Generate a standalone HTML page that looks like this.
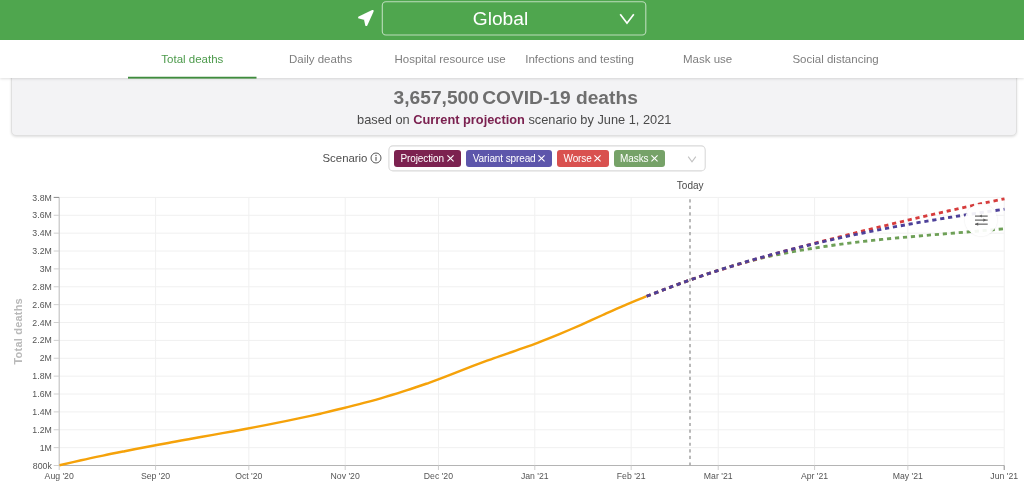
<!DOCTYPE html>
<html lang="en"><head><meta charset="utf-8"><title>COVID-19 Projections</title>
<style>
html,body{margin:0;padding:0;background:#fff;}
body{width:1024px;height:487px;overflow:hidden;position:relative;font-family:"Liberation Sans",Arial,sans-serif;}
#wrap{position:absolute;left:0;top:0;width:1024px;height:487px;overflow:hidden;will-change:transform;}
.hdr{position:absolute;left:0;top:0;width:1024px;height:40px;background:#4fa64e;}
.loc{position:absolute;left:356px;top:8px;}
.sel{position:absolute;left:382px;top:1.7px;width:263px;height:33px;color:#fff;font-size:19.2px;line-height:33px;text-align:center;}
.selbox{position:absolute;left:0;top:0;}
.sel span{position:relative;left:-13px;top:.2px;}
.sel svg.chev{position:absolute;right:8.3px;top:9.9px;}
.panel{position:absolute;left:11px;top:70px;width:1006px;height:66px;background:#f3f3f5;border:1px solid #e0e0e0;border-radius:0 0 5px 5px;box-sizing:border-box;box-shadow:0 .5px 2.5px rgba(0,0,0,.13);}
.h1{position:absolute;left:0;width:1024px;top:86.8px;text-align:center;font-weight:bold;font-size:19.2px;line-height:22px;color:#6e6e6e;white-space:nowrap;text-indent:7.4px;}
.h1 b{margin-right:3.2px;}
.h2{position:absolute;left:0;width:1024px;top:111.5px;text-align:center;font-size:12.8px;line-height:15px;color:#4a4a4a;white-space:nowrap;text-indent:4.5px;}
.h2 b{color:#7b2150;}
.tabs{position:absolute;left:0;top:40px;width:1024px;height:38px;background:#fff;box-shadow:0 1.2px 2.6px rgba(0,0,0,.13);}
.tabs svg{position:absolute;left:0;top:0;}
.tab{position:absolute;top:0;height:39px;line-height:39.9px;text-indent:.2px;text-align:center;font-size:11.5px;color:#7e7e7e;white-space:nowrap;}
.tab.on{color:#4c9a4b;}
.scl{position:absolute;left:322.5px;top:151px;font-size:11.4px;line-height:14px;color:#4d4d4d;}
.info{position:absolute;left:370.3px;top:152.4px;}
.ms{position:absolute;left:389px;top:146px;width:316px;height:25px;}
.ms svg.bx{position:absolute;left:-5px;top:-5px;}
.tag{position:absolute;top:4px;height:17px;border-radius:3px;color:#fff;font-size:10px;letter-spacing:-.11px;line-height:18.2px;box-sizing:border-box;padding-left:6.5px;white-space:nowrap;}
.tag svg{position:absolute;right:7.1px;top:5.4px;overflow:visible;}
.chart{position:absolute;left:0;top:0;}
.yl{font-size:8.75px;fill:#555;}
.xl{font-size:8.7px;fill:#555;}
.today{font-size:10px;fill:#4a4a4a;}
.yt{font-size:11px;font-weight:bold;fill:#b9b9b9;letter-spacing:.2px;}
.fab{position:absolute;left:965.4px;top:204.2px;width:32px;height:32px;border-radius:50%;background:rgba(255,255,255,.92);box-shadow:0 0 2px rgba(0,0,0,.12);}
.fab svg{position:absolute;left:9px;top:9px;}
</style></head><body><div id="wrap">
<svg class="chart" width="1024" height="487" viewBox="0 0 1024 487">
<line x1="59.2" y1="465.50" x2="1004.2" y2="465.50" stroke="#f0f0f0" stroke-width="1"/>
<line x1="59.2" y1="447.63" x2="1004.2" y2="447.63" stroke="#f0f0f0" stroke-width="1"/>
<line x1="59.2" y1="429.75" x2="1004.2" y2="429.75" stroke="#f0f0f0" stroke-width="1"/>
<line x1="59.2" y1="411.88" x2="1004.2" y2="411.88" stroke="#f0f0f0" stroke-width="1"/>
<line x1="59.2" y1="394.01" x2="1004.2" y2="394.01" stroke="#f0f0f0" stroke-width="1"/>
<line x1="59.2" y1="376.13" x2="1004.2" y2="376.13" stroke="#f0f0f0" stroke-width="1"/>
<line x1="59.2" y1="358.26" x2="1004.2" y2="358.26" stroke="#f0f0f0" stroke-width="1"/>
<line x1="59.2" y1="340.39" x2="1004.2" y2="340.39" stroke="#f0f0f0" stroke-width="1"/>
<line x1="59.2" y1="322.51" x2="1004.2" y2="322.51" stroke="#f0f0f0" stroke-width="1"/>
<line x1="59.2" y1="304.64" x2="1004.2" y2="304.64" stroke="#f0f0f0" stroke-width="1"/>
<line x1="59.2" y1="286.77" x2="1004.2" y2="286.77" stroke="#f0f0f0" stroke-width="1"/>
<line x1="59.2" y1="268.89" x2="1004.2" y2="268.89" stroke="#f0f0f0" stroke-width="1"/>
<line x1="59.2" y1="251.02" x2="1004.2" y2="251.02" stroke="#f0f0f0" stroke-width="1"/>
<line x1="59.2" y1="233.15" x2="1004.2" y2="233.15" stroke="#f0f0f0" stroke-width="1"/>
<line x1="59.2" y1="215.27" x2="1004.2" y2="215.27" stroke="#f0f0f0" stroke-width="1"/>
<line x1="59.2" y1="197.40" x2="1004.2" y2="197.40" stroke="#f0f0f0" stroke-width="1"/>
<line x1="155.57" y1="197.4" x2="155.57" y2="465.5" stroke="#f0f0f0" stroke-width="1"/>
<line x1="248.82" y1="197.4" x2="248.82" y2="465.5" stroke="#f0f0f0" stroke-width="1"/>
<line x1="345.19" y1="197.4" x2="345.19" y2="465.5" stroke="#f0f0f0" stroke-width="1"/>
<line x1="438.44" y1="197.4" x2="438.44" y2="465.5" stroke="#f0f0f0" stroke-width="1"/>
<line x1="534.81" y1="197.4" x2="534.81" y2="465.5" stroke="#f0f0f0" stroke-width="1"/>
<line x1="631.17" y1="197.4" x2="631.17" y2="465.5" stroke="#f0f0f0" stroke-width="1"/>
<line x1="718.21" y1="197.4" x2="718.21" y2="465.5" stroke="#f0f0f0" stroke-width="1"/>
<line x1="814.58" y1="197.4" x2="814.58" y2="465.5" stroke="#f0f0f0" stroke-width="1"/>
<line x1="907.83" y1="197.4" x2="907.83" y2="465.5" stroke="#f0f0f0" stroke-width="1"/>
<line x1="1004.20" y1="197.4" x2="1004.20" y2="465.5" stroke="#f0f0f0" stroke-width="1"/>
<line x1="59.2" y1="197.4" x2="59.2" y2="465.5" stroke="#c2c2c2" stroke-width="1.15"/>
<line x1="59.2" y1="465.5" x2="1004.2" y2="465.5" stroke="#b4b4b4" stroke-width="1"/>
<line x1="53.7" y1="465.50" x2="59.2" y2="465.50" stroke="#cfcfcf" stroke-width="1"/>
<text x="51.8" y="468.60" text-anchor="end" class="yl">800k</text>
<line x1="53.7" y1="447.63" x2="59.2" y2="447.63" stroke="#cfcfcf" stroke-width="1"/>
<text x="51.8" y="450.73" text-anchor="end" class="yl">1M</text>
<line x1="53.7" y1="429.75" x2="59.2" y2="429.75" stroke="#cfcfcf" stroke-width="1"/>
<text x="51.8" y="432.85" text-anchor="end" class="yl">1.2M</text>
<line x1="53.7" y1="411.88" x2="59.2" y2="411.88" stroke="#cfcfcf" stroke-width="1"/>
<text x="51.8" y="414.98" text-anchor="end" class="yl">1.4M</text>
<line x1="53.7" y1="394.01" x2="59.2" y2="394.01" stroke="#cfcfcf" stroke-width="1"/>
<text x="51.8" y="397.11" text-anchor="end" class="yl">1.6M</text>
<line x1="53.7" y1="376.13" x2="59.2" y2="376.13" stroke="#cfcfcf" stroke-width="1"/>
<text x="51.8" y="379.23" text-anchor="end" class="yl">1.8M</text>
<line x1="53.7" y1="358.26" x2="59.2" y2="358.26" stroke="#cfcfcf" stroke-width="1"/>
<text x="51.8" y="361.36" text-anchor="end" class="yl">2M</text>
<line x1="53.7" y1="340.39" x2="59.2" y2="340.39" stroke="#cfcfcf" stroke-width="1"/>
<text x="51.8" y="343.49" text-anchor="end" class="yl">2.2M</text>
<line x1="53.7" y1="322.51" x2="59.2" y2="322.51" stroke="#cfcfcf" stroke-width="1"/>
<text x="51.8" y="325.61" text-anchor="end" class="yl">2.4M</text>
<line x1="53.7" y1="304.64" x2="59.2" y2="304.64" stroke="#cfcfcf" stroke-width="1"/>
<text x="51.8" y="307.74" text-anchor="end" class="yl">2.6M</text>
<line x1="53.7" y1="286.77" x2="59.2" y2="286.77" stroke="#cfcfcf" stroke-width="1"/>
<text x="51.8" y="289.87" text-anchor="end" class="yl">2.8M</text>
<line x1="53.7" y1="268.89" x2="59.2" y2="268.89" stroke="#cfcfcf" stroke-width="1"/>
<text x="51.8" y="271.99" text-anchor="end" class="yl">3M</text>
<line x1="53.7" y1="251.02" x2="59.2" y2="251.02" stroke="#cfcfcf" stroke-width="1"/>
<text x="51.8" y="254.12" text-anchor="end" class="yl">3.2M</text>
<line x1="53.7" y1="233.15" x2="59.2" y2="233.15" stroke="#cfcfcf" stroke-width="1"/>
<text x="51.8" y="236.25" text-anchor="end" class="yl">3.4M</text>
<line x1="53.7" y1="215.27" x2="59.2" y2="215.27" stroke="#cfcfcf" stroke-width="1"/>
<text x="51.8" y="218.37" text-anchor="end" class="yl">3.6M</text>
<line x1="53.7" y1="197.40" x2="59.2" y2="197.40" stroke="#8a8a8a" stroke-width="1"/>
<text x="51.8" y="200.50" text-anchor="end" class="yl">3.8M</text>
<line x1="59.20" y1="465.5" x2="59.20" y2="470.0" stroke="#cfcfcf" stroke-width="1"/>
<text x="59.20" y="479" text-anchor="middle" class="xl">Aug '20</text>
<line x1="155.57" y1="465.5" x2="155.57" y2="470.0" stroke="#cfcfcf" stroke-width="1"/>
<text x="155.57" y="479" text-anchor="middle" class="xl">Sep '20</text>
<line x1="248.82" y1="465.5" x2="248.82" y2="470.0" stroke="#cfcfcf" stroke-width="1"/>
<text x="248.82" y="479" text-anchor="middle" class="xl">Oct '20</text>
<line x1="345.19" y1="465.5" x2="345.19" y2="470.0" stroke="#cfcfcf" stroke-width="1"/>
<text x="345.19" y="479" text-anchor="middle" class="xl">Nov '20</text>
<line x1="438.44" y1="465.5" x2="438.44" y2="470.0" stroke="#cfcfcf" stroke-width="1"/>
<text x="438.44" y="479" text-anchor="middle" class="xl">Dec '20</text>
<line x1="534.81" y1="465.5" x2="534.81" y2="470.0" stroke="#cfcfcf" stroke-width="1"/>
<text x="534.81" y="479" text-anchor="middle" class="xl">Jan '21</text>
<line x1="631.17" y1="465.5" x2="631.17" y2="470.0" stroke="#cfcfcf" stroke-width="1"/>
<text x="631.17" y="479" text-anchor="middle" class="xl">Feb '21</text>
<line x1="718.21" y1="465.5" x2="718.21" y2="470.0" stroke="#cfcfcf" stroke-width="1"/>
<text x="718.21" y="479" text-anchor="middle" class="xl">Mar '21</text>
<line x1="814.58" y1="465.5" x2="814.58" y2="470.0" stroke="#cfcfcf" stroke-width="1"/>
<text x="814.58" y="479" text-anchor="middle" class="xl">Apr '21</text>
<line x1="907.83" y1="465.5" x2="907.83" y2="470.0" stroke="#cfcfcf" stroke-width="1"/>
<text x="907.83" y="479" text-anchor="middle" class="xl">May '21</text>
<line x1="1004.20" y1="465.5" x2="1004.20" y2="470.0" stroke="#8a8a8a" stroke-width="1"/>
<text x="1004.20" y="479" text-anchor="middle" class="xl">Jun '21</text>
<line x1="690" y1="197.4" x2="690" y2="465.5" stroke="#a8a8a8" stroke-width="1.6" stroke-dasharray="3.2 3.38" stroke-dashoffset="-1.8"/>
<text x="690.2" y="189" text-anchor="middle" class="today">Today</text>
<text transform="translate(22.4 331.3) rotate(-90)" text-anchor="middle" class="yt">Total deaths</text>
<path d="M59.5 465.3C63.1 464.5 74.0 461.9 81.2 460.3C88.5 458.6 95.7 457.1 103.0 455.6C110.2 454.0 117.5 452.6 124.7 451.2C131.9 449.7 139.2 448.3 146.4 447.0C153.7 445.6 160.9 444.3 168.2 443.0C175.4 441.6 182.7 440.3 189.9 439.0C197.1 437.7 204.4 436.4 211.6 435.1C218.9 433.8 226.1 432.5 233.4 431.2C240.6 429.9 247.9 428.5 255.1 427.1C262.3 425.8 269.6 424.4 276.8 422.9C284.1 421.5 291.3 420.0 298.6 418.4C305.8 416.9 313.1 415.3 320.3 413.7C327.5 412.0 334.8 410.3 342.0 408.5C349.3 406.7 356.5 404.9 363.8 402.9C371.0 401.0 378.3 399.0 385.5 396.8C392.7 394.7 400.0 392.5 407.2 390.1C414.5 387.8 421.7 385.3 429.0 382.8C436.2 380.2 443.5 377.4 450.7 374.6C457.9 371.8 465.2 368.9 472.4 366.1C479.7 363.4 486.9 360.7 494.2 358.1C501.4 355.5 508.7 353.1 515.9 350.6C523.1 348.0 530.4 345.6 537.6 342.8C544.9 340.1 552.1 337.2 559.4 334.2C566.6 331.1 573.9 327.9 581.1 324.8C588.3 321.6 595.6 318.2 602.8 315.0C610.1 311.7 617.3 308.4 624.6 305.3C631.8 302.2 642.7 297.9 646.3 296.4" fill="none" stroke="#f5a20a" stroke-width="2.45" stroke-linecap="butt"/>
<path d="M646.3 296.4C649.4 295.2 658.9 291.6 665.2 289.2C671.4 286.9 677.7 284.5 684.0 282.2C690.3 280.0 696.6 277.7 702.9 275.5C709.1 273.3 715.4 271.2 721.7 269.2C728.0 267.2 734.3 265.3 740.6 263.5C746.8 261.8 753.1 260.2 759.4 258.7C765.7 257.2 772.0 255.8 778.3 254.5C784.6 253.2 790.8 252.1 797.1 250.9C803.4 249.8 809.7 248.8 816.0 247.8C822.3 246.8 828.5 245.9 834.8 245.0C841.1 244.2 847.4 243.4 853.7 242.6C860.0 241.8 866.2 241.1 872.5 240.4C878.8 239.8 885.1 239.1 891.4 238.5C897.7 237.9 904.0 237.3 910.2 236.8C916.5 236.2 922.8 235.7 929.1 235.1C935.4 234.6 941.7 234.1 947.9 233.6C954.2 233.0 960.5 232.5 966.8 232.0C973.1 231.5 979.4 231.0 985.6 230.4C991.9 229.9 1001.4 229.0 1004.5 228.7" fill="none" stroke="#6ea057" stroke-width="2.85" stroke-dasharray="4.2 3.8" stroke-dashoffset="-0.5"/>
<path d="M646.3 296.4C649.4 295.2 658.9 291.5 665.2 289.1C671.4 286.7 677.7 284.4 684.0 282.1C690.3 279.9 696.6 277.7 702.9 275.5C709.1 273.4 715.4 271.4 721.7 269.4C728.0 267.4 734.3 265.5 740.6 263.6C746.8 261.8 753.1 259.9 759.4 258.2C765.7 256.4 772.0 254.6 778.3 252.9C784.6 251.2 790.8 249.5 797.1 247.9C803.4 246.2 809.7 244.6 816.0 242.9C822.3 241.3 828.5 239.7 834.8 238.1C841.1 236.5 847.4 234.9 853.7 233.3C860.0 231.7 866.2 230.2 872.5 228.7C878.8 227.1 885.1 225.6 891.4 224.1C897.7 222.6 904.0 221.1 910.2 219.6C916.5 218.1 922.8 216.7 929.1 215.2C935.4 213.8 941.7 212.4 947.9 211.0C954.2 209.6 960.5 208.2 966.8 206.8C973.1 205.4 979.4 204.1 985.6 202.7C991.9 201.4 1001.4 199.4 1004.5 198.8" fill="none" stroke="#d63c3c" stroke-width="2.85" stroke-dasharray="4.2 3.8" stroke-dashoffset="-0.5"/>
<path d="M646.3 296.4C649.4 295.2 658.9 291.5 665.2 289.1C671.4 286.7 677.7 284.4 684.0 282.1C690.3 279.9 696.6 277.7 702.9 275.5C709.1 273.4 715.4 271.3 721.7 269.3C728.0 267.3 734.3 265.4 740.6 263.5C746.8 261.6 753.1 259.7 759.4 258.0C765.7 256.2 772.0 254.5 778.3 252.8C784.6 251.1 790.8 249.5 797.1 247.9C803.4 246.3 809.7 244.8 816.0 243.3C822.3 241.8 828.5 240.4 834.8 239.0C841.1 237.6 847.4 236.2 853.7 234.9C860.0 233.6 866.2 232.3 872.5 231.1C878.8 229.8 885.1 228.6 891.4 227.5C897.7 226.3 904.0 225.2 910.2 224.0C916.5 222.9 922.8 221.8 929.1 220.8C935.4 219.7 941.7 218.7 947.9 217.7C954.2 216.7 960.5 215.7 966.8 214.7C973.1 213.8 979.4 212.8 985.6 211.9C991.9 211.0 1001.4 209.6 1004.5 209.2" fill="none" stroke="#4d4099" stroke-width="2.85" stroke-dasharray="4.2 3.8" stroke-dashoffset="-0.5"/>
</svg>
<div class="fab"><svg width="14" height="14" viewBox="0 0 14 14"><g stroke="#5e5e5e" stroke-width="1.15" fill="#5e5e5e"><line x1="1" y1="3.1" x2="13.7" y2="3.1"/><line x1="1" y1="7.1" x2="13.7" y2="7.1"/><line x1="1" y1="11.15" x2="13.7" y2="11.15"/><path d="M5.5 3.1L7.8 1.6V4.6Z" stroke="none"/><path d="M12.2 7.1L9.4 5.5V8.7Z" stroke="none"/><path d="M1 11.15L4.2 9.5V12.8Z" stroke="none"/></g></svg></div>
<div class="panel"></div>
<div class="h1"><b>3,657,500</b>COVID-19 deaths</div>
<div class="h2">based on <b>Current projection</b> scenario by June 1, 2021</div>
<div class="tabs">
<svg width="1024" height="42" viewBox="0 0 1024 42"><rect x="128" y="36.75" width="128.5" height="1.85" fill="#3f8c3d"/></svg>
<div class="tab on" style="left:128px;width:128.5px">Total deaths</div>
<div class="tab" style="left:256.5px;width:128px">Daily deaths</div>
<div class="tab" style="left:384.5px;width:131px">Hospital resource use</div>
<div class="tab" style="left:515.5px;width:128px">Infections and testing</div>
<div class="tab" style="left:643.5px;width:128px">Mask use</div>
<div class="tab" style="left:771.5px;width:128px">Social distancing</div>
</div>
<div class="hdr">
<svg class="loc" width="20" height="20" viewBox="0 0 20 20"><path d="M16.6 3 L3.2 9.5 L9 10.9 L10.3 17 Z" fill="#fff" stroke="#fff" stroke-width="2.2" stroke-linejoin="round"/></svg>
<svg class="selbox" width="1024" height="40" viewBox="0 0 1024 40"><rect x="382.3" y="1.8" width="263.5" height="33.2" rx="3.6" fill="none" stroke="rgba(255,255,255,.62)" stroke-width="1.1"/></svg>
<div class="sel"><span>Global</span><svg class="chev" width="20" height="14" viewBox="0 0 20 14"><path d="M3.2 2.2 L10 11.2 L16.8 2.2" fill="none" stroke="#fff" stroke-width="1.7"/></svg></div>
</div>
<div class="scl">Scenario</div>
<svg class="info" width="12" height="12" viewBox="0 0 12 12"><circle cx="6" cy="6" r="5" fill="none" stroke="#555" stroke-width="1"/><rect x="5.45" y="5" width="1.1" height="3.8" fill="#555"/><circle cx="6" cy="3.5" r=".7" fill="#555"/></svg>
<div class="ms">
<svg class="bx" width="330" height="36" viewBox="0 0 330 36"><rect x="4.9" y="4.9" width="316.3" height="25" rx="4" fill="#fff" stroke="#d9d9d9" stroke-width="1.1"/></svg>
<div class="tag" style="left:5px;width:67.2px;background:#7c2250">Projection<svg width="7" height="7" viewBox="0 0 7 7"><path d="M.4 .4L6.6 6.4M6.6 .4L.4 6.4" stroke="#fff" stroke-width="1.1" fill="none"/></svg></div>
<div class="tag" style="left:77.3px;width:86px;background:#5d56ab">Variant spread<svg width="7" height="7" viewBox="0 0 7 7"><path d="M.4 .4L6.6 6.4M6.6 .4L.4 6.4" stroke="#fff" stroke-width="1.1" fill="none"/></svg></div>
<div class="tag" style="left:168px;width:51.5px;background:#d9514f">Worse<svg width="7" height="7" viewBox="0 0 7 7"><path d="M.4 .4L6.6 6.4M6.6 .4L.4 6.4" stroke="#fff" stroke-width="1.1" fill="none"/></svg></div>
<div class="tag" style="left:224.6px;width:51px;background:#76a268">Masks<svg width="7" height="7" viewBox="0 0 7 7"><path d="M.4 .4L6.6 6.4M6.6 .4L.4 6.4" stroke="#fff" stroke-width="1.1" fill="none"/></svg></div>
<svg style="position:absolute;left:298.2px;top:9.9px;overflow:visible" width="10" height="7" viewBox="0 0 10 7"><path d="M1.2 .6L5 5.9L8.8 .6" fill="none" stroke="#c2c2c2" stroke-width="1.1"/></svg>
</div>
</div></body></html>
